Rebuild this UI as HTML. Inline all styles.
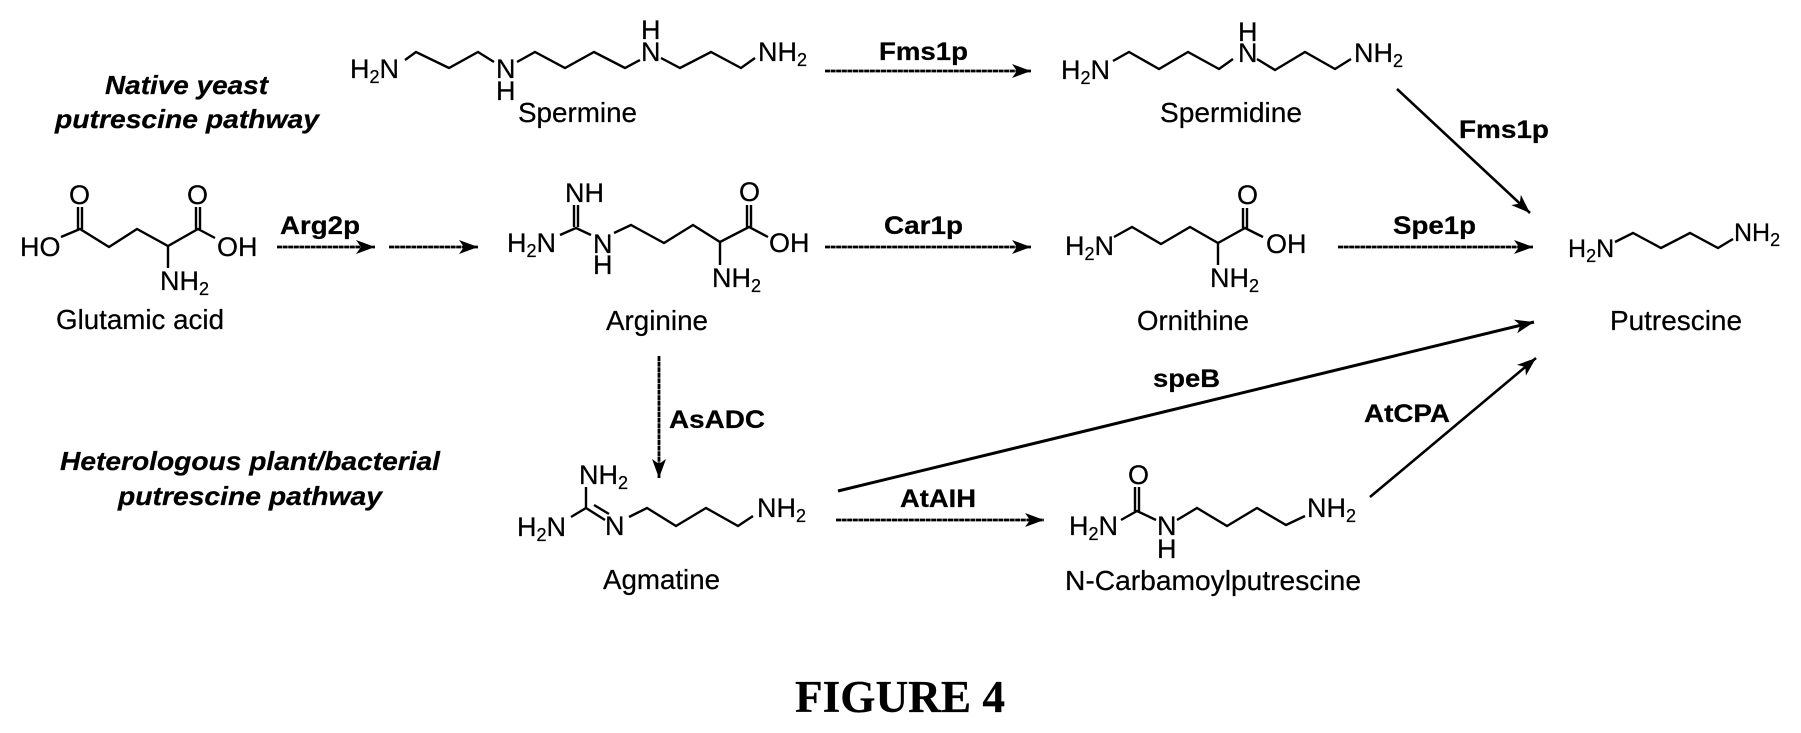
<!DOCTYPE html>
<html>
<head>
<meta charset="utf-8">
<title>Figure 4</title>
<style>
html,body{margin:0;padding:0;background:#fff;width:1801px;height:733px;overflow:hidden}
svg{display:block}
text{font-family:"Liberation Sans",sans-serif;fill:#000;stroke:#000;stroke-width:.25}
.c{font-size:27px}
.l{font-size:28px}
.b{font-size:25px;font-weight:bold}
.i{font-size:26px;font-weight:bold;font-style:italic}
.s{font-size:18px}
.f{font-family:"Liberation Serif",serif;font-weight:bold;font-size:45px}
.bond{fill:none;stroke:#000;stroke-width:2.4;stroke-linejoin:miter}
.ar{fill:none;stroke:#000;stroke-width:2.6}
.d{stroke-dasharray:5 .6;stroke-width:2.8}
</style>
</head>
<body>
<svg width="1801" height="733" viewBox="0 0 1801 733" xmlns="http://www.w3.org/2000/svg">
<defs>
<marker id="a" markerUnits="userSpaceOnUse" markerWidth="24" markerHeight="18" refX="21" refY="9" orient="auto">
<path d="M21,9 L2,2 L7,9 L2,16Z" fill="#000"/>
</marker>
</defs>
<rect width="1801" height="733" fill="#fff"/>

<!-- Pathway titles -->
<text class="i" x="105" y="94" textLength="163" lengthAdjust="spacingAndGlyphs">Native yeast</text>
<text class="i" x="55" y="128" textLength="264" lengthAdjust="spacingAndGlyphs">putrescine pathway</text>
<text class="i" x="60" y="470" textLength="380" lengthAdjust="spacingAndGlyphs">Heterologous plant/bacterial</text>
<text class="i" x="118" y="505" textLength="264" lengthAdjust="spacingAndGlyphs">putrescine pathway</text>

<!-- Spermine -->
<text class="c" x="350" y="78">H<tspan class="s" dy="5">2</tspan><tspan dy="-5">N</tspan></text>
<polyline class="bond" points="405,60 416,52 449,68 478,52 494,62"/>
<text class="c" x="496" y="78">N</text>
<text class="c" x="496" y="100">H</text>
<polyline class="bond" points="517,62 535,52 565,68 594,52 625,68 640,60"/>
<text class="c" x="641" y="61">N</text>
<text class="c" x="641" y="39">H</text>
<polyline class="bond" points="661,58 680,68 711,52 741,68 755,58"/>
<text class="c" x="758" y="61">NH<tspan class="s" dy="5">2</tspan></text>
<text class="l" x="518" y="122" textLength="119" lengthAdjust="spacingAndGlyphs">Spermine</text>

<!-- Spermidine -->
<text class="c" x="1061" y="79">H<tspan class="s" dy="5">2</tspan><tspan dy="-5">N</tspan></text>
<polyline class="bond" points="1113,61 1129,52 1159,69 1188,52 1219,69 1233,59"/>
<text class="c" x="1238" y="62">N</text>
<text class="c" x="1238" y="41">H</text>
<polyline class="bond" points="1257,59 1275,70 1305,52 1335,69 1351,59"/>
<text class="c" x="1354" y="62">NH<tspan class="s" dy="5">2</tspan></text>
<text class="l" x="1160" y="122" textLength="142" lengthAdjust="spacingAndGlyphs">Spermidine</text>

<!-- Glutamic acid -->
<text class="c" x="20" y="256">HO</text>
<polyline class="bond" points="61,237 80,229 109,247 137,229 168,246 198,229 215,238"/>
<path class="bond" d="M78,229V207M82,229V207M196,229V207M200,229V207"/>
<text class="c" x="69" y="204">O</text>
<text class="c" x="187" y="204">O</text>
<text class="c" x="217" y="256">OH</text>
<path class="bond" d="M168,246V268"/>
<text class="c" x="160" y="290">NH<tspan class="s" dy="5">2</tspan></text>
<text class="l" x="56" y="329" textLength="168" lengthAdjust="spacingAndGlyphs">Glutamic acid</text>

<!-- Arginine -->
<text class="c" x="565" y="202">NH</text>
<path class="bond" d="M574,205V227M578,205V227"/>
<polyline class="bond" points="560,235 576,228 591,235"/>
<text class="c" x="507" y="252">H<tspan class="s" dy="5">2</tspan><tspan dy="-5">N</tspan></text>
<text class="c" x="593" y="253">N</text>
<text class="c" x="593" y="274">H</text>
<polyline class="bond" points="614,233 631,225 664,243 693,225 720,242 749,227 768,237"/>
<path class="bond" d="M747,227V205M751,227V205M720,242V265"/>
<text class="c" x="739" y="201">O</text>
<text class="c" x="769" y="252">OH</text>
<text class="c" x="712" y="287">NH<tspan class="s" dy="5">2</tspan></text>
<text class="l" x="606" y="330" textLength="102" lengthAdjust="spacingAndGlyphs">Arginine</text>

<!-- Ornithine -->
<text class="c" x="1065" y="255">H<tspan class="s" dy="5">2</tspan><tspan dy="-5">N</tspan></text>
<polyline class="bond" points="1114,237 1132,227 1161,244 1190,227 1218,243 1245,228 1263,237"/>
<path class="bond" d="M1243,228V208M1247,228V208M1218,243V265"/>
<text class="c" x="1237" y="204">O</text>
<text class="c" x="1266" y="253">OH</text>
<text class="c" x="1210" y="287">NH<tspan class="s" dy="5">2</tspan></text>
<text class="l" x="1137" y="330" textLength="112" lengthAdjust="spacingAndGlyphs">Ornithine</text>

<!-- Putrescine -->
<text class="c" x="1568" y="257" style="font-size:25px">H<tspan class="s" dy="5">2</tspan><tspan dy="-5">N</tspan></text>
<polyline class="bond" points="1615,242 1633,233 1661,248 1690,233 1718,248 1733,239"/>
<text class="c" x="1734" y="241" style="font-size:25px">NH<tspan class="s" dy="5">2</tspan></text>
<text class="l" x="1610" y="330" textLength="132" lengthAdjust="spacingAndGlyphs">Putrescine</text>

<!-- Agmatine -->
<text class="c" x="579" y="484">NH<tspan class="s" dy="5">2</tspan></text>
<path class="bond" d="M586,487V508"/>
<polyline class="bond" points="571,517 586,508"/>
<path class="bond" d="M586,508L605,520M594,505L609,514"/>
<text class="c" x="517" y="536">H<tspan class="s" dy="5">2</tspan><tspan dy="-5">N</tspan></text>
<text class="c" x="605" y="535">N</text>
<polyline class="bond" points="629,517 647,508 676,526 706,508 738,526 753,516"/>
<text class="c" x="757" y="517">NH<tspan class="s" dy="5">2</tspan></text>
<text class="l" x="603" y="589" textLength="117" lengthAdjust="spacingAndGlyphs">Agmatine</text>

<!-- N-Carbamoylputrescine -->
<text class="c" x="1069" y="535">H<tspan class="s" dy="5">2</tspan><tspan dy="-5">N</tspan></text>
<polyline class="bond" points="1121,520 1137,511 1156,520"/>
<path class="bond" d="M1135,511V487M1139,511V487"/>
<text class="c" x="1128" y="484">O</text>
<text class="c" x="1157" y="535">N</text>
<text class="c" x="1157" y="558">H</text>
<polyline class="bond" points="1177,520 1197,508 1227,526 1257,508 1286,525 1305,516"/>
<text class="c" x="1307" y="517">NH<tspan class="s" dy="5">2</tspan></text>
<text class="l" x="1065" y="590" textLength="296" lengthAdjust="spacingAndGlyphs">N-Carbamoylputrescine</text>

<!-- Arrows -->
<line class="ar d" x1="825" y1="71" x2="1031" y2="71" marker-end="url(#a)"/>
<line class="ar" x1="1397" y1="89" x2="1530" y2="213" marker-end="url(#a)"/>
<line class="ar d" x1="277" y1="247" x2="375" y2="247" marker-end="url(#a)"/>
<line class="ar d" x1="389" y1="247" x2="478" y2="247" marker-end="url(#a)"/>
<line class="ar d" x1="825" y1="247" x2="1031" y2="247" marker-end="url(#a)"/>
<line class="ar d" x1="1338" y1="247" x2="1533" y2="247" marker-end="url(#a)"/>
<line class="ar d" x1="659" y1="356" x2="659" y2="478" marker-end="url(#a)"/>
<line class="ar" x1="838" y1="491" x2="1534" y2="322" marker-end="url(#a)" style="stroke-width:3"/>
<line class="ar d" x1="836" y1="520" x2="1044" y2="520" marker-end="url(#a)"/>
<line class="ar" x1="1370" y1="497" x2="1536" y2="358" marker-end="url(#a)"/>

<!-- Enzyme labels -->
<text class="b" x="879" y="60" textLength="89" lengthAdjust="spacingAndGlyphs">Fms1p</text>
<text class="b" x="1459" y="138" textLength="90" lengthAdjust="spacingAndGlyphs">Fms1p</text>
<text class="b" x="280" y="234" textLength="80" lengthAdjust="spacingAndGlyphs">Arg2p</text>
<text class="b" x="884" y="234" textLength="79" lengthAdjust="spacingAndGlyphs">Car1p</text>
<text class="b" x="1393" y="234" textLength="83" lengthAdjust="spacingAndGlyphs">Spe1p</text>
<text class="b" x="669" y="428" textLength="96" lengthAdjust="spacingAndGlyphs">AsADC</text>
<text class="b" x="1153" y="387" textLength="67" lengthAdjust="spacingAndGlyphs">speB</text>
<text class="b" x="1364" y="422" textLength="86" lengthAdjust="spacingAndGlyphs">AtCPA</text>
<text class="b" x="900" y="507" textLength="76" lengthAdjust="spacingAndGlyphs">AtAIH</text>

<!-- Caption -->
<text class="f" x="795" y="712" textLength="210" lengthAdjust="spacingAndGlyphs">FIGURE 4</text>
</svg>
</body>
</html>
